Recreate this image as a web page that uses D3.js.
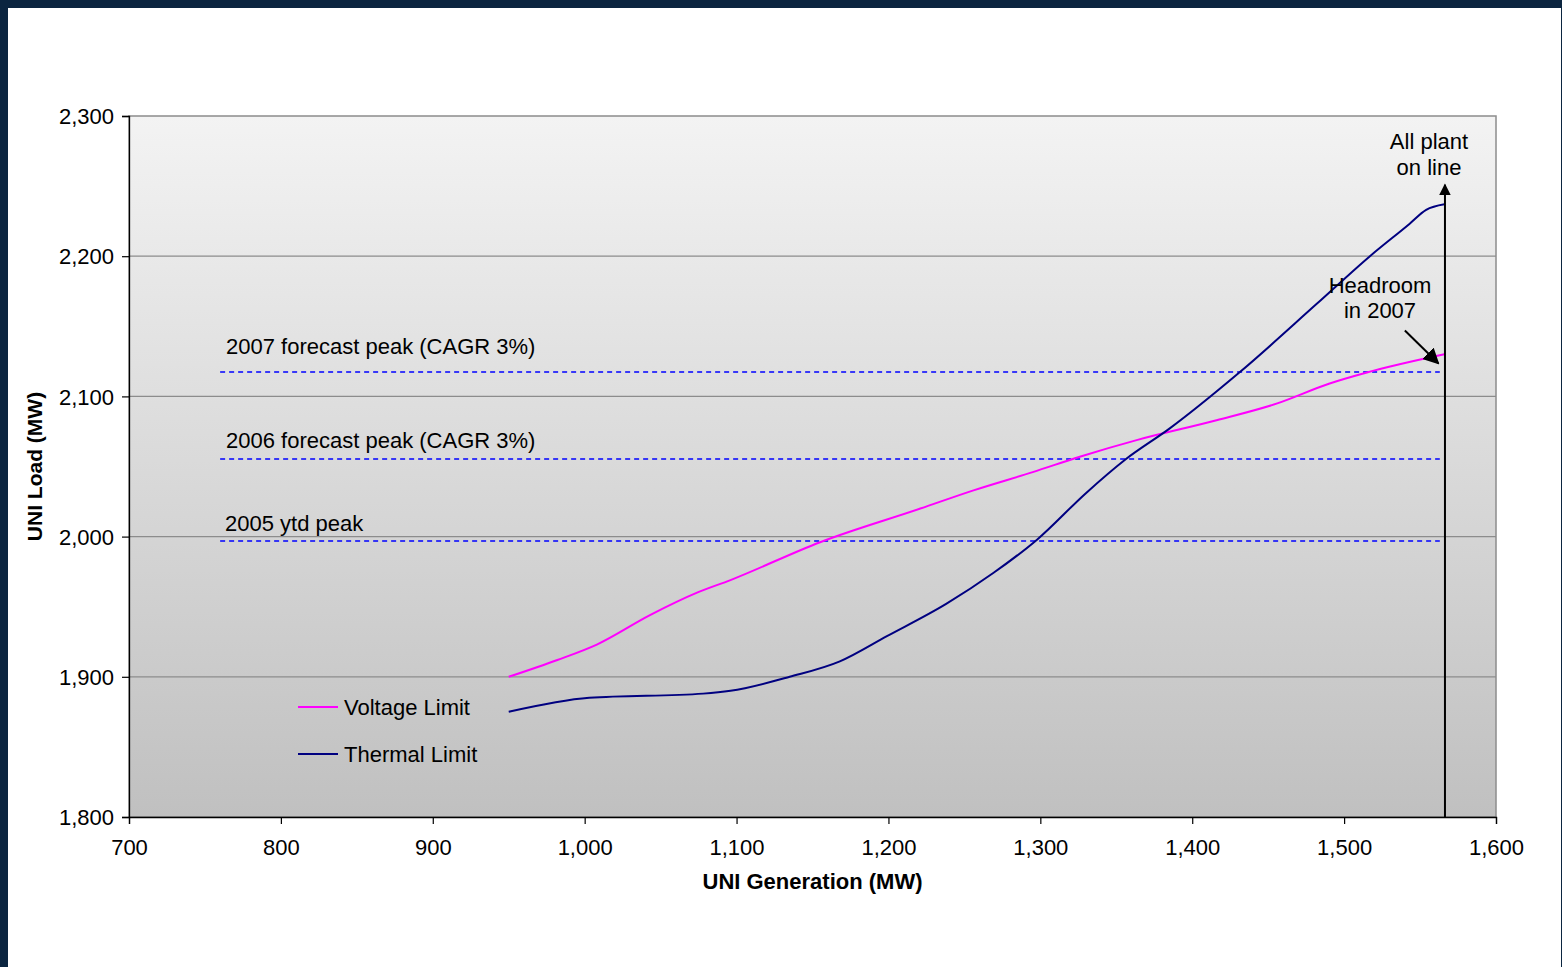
<!DOCTYPE html>
<html>
<head>
<meta charset="utf-8">
<script src="https://cdn.jsdelivr.net/npm/d3@7"></script>
<style>
html,body{margin:0;padding:0;background:#0b2540;}
svg{display:block;font-family:"Liberation Sans",Arial,sans-serif;}
</style>
</head>
<body>
<svg id="chart" width="1562" height="967"></svg>
<script>
// ---- data ----
const voltageGen  = [950, 982, 1008, 1043, 1074, 1096, 1155, 1221, 1256, 1295, 1326, 1364, 1416, 1456, 1490, 1515, 1566];
const voltageLoad = [1900, 1912, 1923, 1944, 1960, 1969, 1996, 2020, 2033, 2046, 2057, 2069, 2083, 2095, 2109, 2117, 2130];
const thermalGen  = [950, 1003, 1078, 1096, 1135, 1168, 1199, 1238, 1269, 1298, 1330, 1356, 1385, 1431, 1482, 1517, 1543, 1554, 1566];
const thermalLoad = [1875, 1885, 1888, 1890, 1900, 1911, 1929, 1952, 1974, 1998, 2031, 2055, 2077, 2117, 2166, 2200, 2223, 2233, 2237];
const peakNames  = ["2007 forecast peak (CAGR 3%)", "2006 forecast peak (CAGR 3%)", "2005 ytd peak"];
const peakValues = [2117.4, 2055.3, 1996.9];
const peakStart = 760, peakEnd = 1563;
const allPlantGen = 1566.4, allPlantTop = 2251;
const xTicks = [700, 800, 900, 1000, 1100, 1200, 1300, 1400, 1500, 1600];
const yTicks = [1800, 1900, 2000, 2100, 2200, 2300];
const seriesNames = ["Voltage Limit", "Thermal Limit"];
const seriesColors = ["#ff00ff", "#000080"];

// ---- layout ----
const FS = 22;
const svg = d3.select("#chart");
svg.append("rect").attr("x", 8).attr("y", 8).attr("width", 1553).attr("height", 959).attr("fill", "#ffffff");

const L = 129, R = 1496, T = 116, B = 817;
const x = d3.scaleLinear().domain([700, 1600]).range([L, R]);
const y = d3.scaleLinear().domain([1800, 2300]).range([B, T]);

const defs = svg.append("defs");
const grad = defs.append("linearGradient").attr("id", "bg").attr("x1", 0).attr("y1", 0).attr("x2", 0).attr("y2", 1);
grad.append("stop").attr("offset", "0%").attr("stop-color", "#f3f3f3");
grad.append("stop").attr("offset", "100%").attr("stop-color", "#c0c0c0");
function marker(id, size) {
  defs.append("marker").attr("id", id).attr("viewBox", "0 0 10 10").attr("refX", 9).attr("refY", 5)
    .attr("markerWidth", size).attr("markerHeight", size).attr("markerUnits", "strokeWidth").attr("orient", "auto")
    .append("path").attr("d", "M0,0 L10,5 L0,10 z").attr("fill", "#000");
}
marker("arr", 6);
marker("arr2", 8);

svg.append("rect").attr("x", L).attr("y", T).attr("width", R - L).attr("height", B - T)
  .attr("fill", "url(#bg)").attr("stroke", "#8c8c8c").attr("stroke-width", 1.5);

// gridlines
svg.append("g").selectAll("line").data(yTicks.filter(d => d > 1800 && d < 2300)).join("line")
  .attr("x1", L).attr("x2", R).attr("y1", d => y(d)).attr("y2", d => y(d))
  .attr("stroke", "#8c8c8c").attr("stroke-width", 1.2);

// axes
const xAxis = svg.append("g").attr("transform", `translate(0,${B})`)
  .call(d3.axisBottom(x).tickValues(xTicks).tickFormat(d3.format(",")).tickSizeOuter(0).tickSize(7).tickPadding(15));
const yAxis = svg.append("g").attr("transform", `translate(${L},0)`)
  .call(d3.axisLeft(y).tickValues(yTicks).tickFormat(d3.format(",")).tickSizeOuter(0).tickSize(7).tickPadding(8));
[xAxis, yAxis].forEach(g => {
  g.attr("font-family", null).attr("font-size", null);
  g.select(".domain").attr("stroke", "#000").attr("stroke-width", 1.3);
  g.selectAll(".tick line").attr("stroke", "#000").attr("stroke-width", 1.2);
  g.selectAll("text").attr("font-size", FS).attr("fill", "#000");
});
yAxis.selectAll("text").attr("dy", "0.35em");

svg.append("text").attr("x", (L + R) / 2).attr("y", 889).attr("text-anchor", "middle")
  .attr("font-size", FS).attr("font-weight", "bold").text("UNI Generation (MW)");
svg.append("text").attr("transform", `translate(42,${(T + B) / 2}) rotate(-90)`).attr("text-anchor", "middle")
  .attr("font-size", FS - 1).attr("font-weight", "bold").text("UNI Load (MW)");

// peak dashed lines
const peaks = peakNames.map((n, i) => ({name: n, v: peakValues[i]}));
svg.append("g").selectAll("line").data(peaks).join("line")
  .attr("x1", x(peakStart)).attr("x2", x(peakEnd)).attr("y1", d => y(d.v)).attr("y2", d => y(d.v))
  .attr("stroke", "#0000ff").attr("stroke-width", 1.5).attr("stroke-dasharray", "5,4");
const labelOffsets = [-18, -11, -10];
svg.append("g").selectAll("text").data(peaks).join("text")
  .attr("x", (d, i) => i === 2 ? 225 : 226).attr("y", (d, i) => y(d.v) + labelOffsets[i])
  .attr("font-size", FS).attr("fill", "#000").text(d => d.name);

// series
const line = d3.line().x(d => x(d[0])).y(d => y(d[1])).curve(d3.curveMonotoneX);
const volt = voltageGen.map((g, i) => [g, voltageLoad[i]]);
const therm = thermalGen.map((g, i) => [g, thermalLoad[i]]);
svg.append("path").datum(volt).attr("d", line).attr("fill", "none").attr("stroke", seriesColors[0]).attr("stroke-width", 2);
svg.append("path").datum(therm).attr("d", line).attr("fill", "none").attr("stroke", seriesColors[1]).attr("stroke-width", 2);

// all plant vertical arrow
svg.append("line").attr("x1", x(allPlantGen)).attr("x2", x(allPlantGen)).attr("y1", y(1800)).attr("y2", y(allPlantTop))
  .attr("stroke", "#000").attr("stroke-width", 2).attr("marker-end", "url(#arr)");
svg.append("text").attr("x", 1429).attr("y", 149).attr("text-anchor", "middle").attr("font-size", FS).text("All plant");
svg.append("text").attr("x", 1429).attr("y", 175).attr("text-anchor", "middle").attr("font-size", FS).text("on line");

// headroom
svg.append("text").attr("x", 1380).attr("y", 293).attr("text-anchor", "middle").attr("font-size", FS).text("Headroom");
svg.append("text").attr("x", 1380).attr("y", 318).attr("text-anchor", "middle").attr("font-size", FS).text("in 2007");
svg.append("line").attr("x1", x(1540)).attr("y1", y(2147)).attr("x2", x(1562)).attr("y2", y(2123.6))
  .attr("stroke", "#000").attr("stroke-width", 2).attr("marker-end", "url(#arr2)");

// legend
const leg = svg.append("g");
seriesNames.forEach((n, i) => {
  const yy = 707 + i * 47;
  leg.append("line").attr("x1", 298).attr("x2", 338).attr("y1", yy).attr("y2", yy)
    .attr("stroke", seriesColors[i]).attr("stroke-width", 2);
  leg.append("text").attr("x", 344).attr("y", yy + 8).attr("font-size", FS).attr("fill", "#000").text(n);
});
</script>
</body>
</html>
